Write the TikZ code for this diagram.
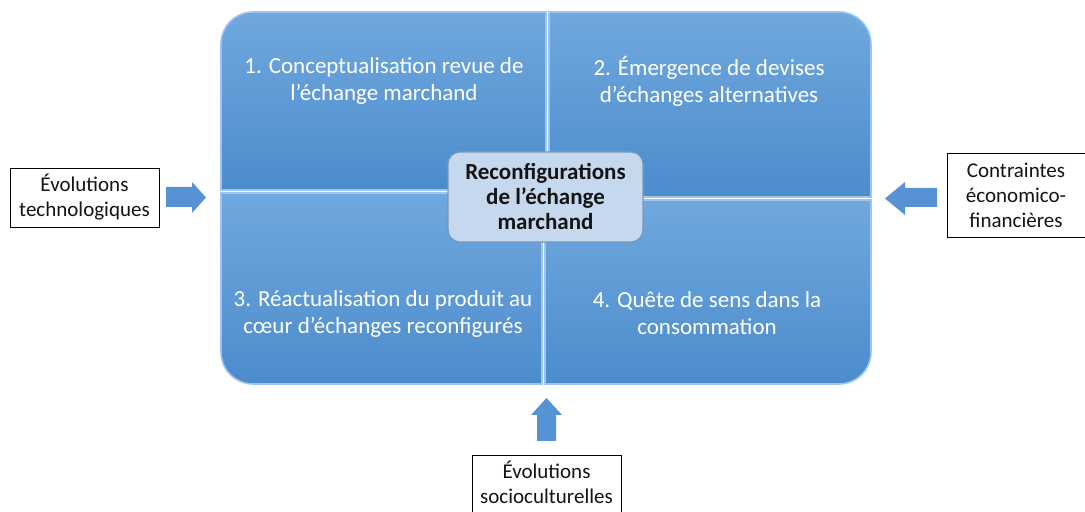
\documentclass[tikz,border=0pt]{standalone}
\usepackage{fontspec}
\setmainfont{Carlito}
\definecolor{qtop}{RGB}{112,168,222}
\definecolor{qbot}{RGB}{76,140,204}
\definecolor{qedge}{RGB}{158,198,236}
\definecolor{cfill}{RGB}{198,216,238}
\definecolor{cbord}{RGB}{120,150,188}
\definecolor{arrowblue}{RGB}{86,146,212}
\definecolor{txtdark}{RGB}{20,20,20}
\tikzset{
  quad/.style={shade, top color=qtop, bottom color=qbot, draw=qedge, line width=1.6bp},
  qtext/.style={text=white, align=center, font=\fontsize{23bp}{27bp}\selectfont},
  center/.style={draw=cbord, fill=cfill, rounded corners=12bp, line width=1.2bp,
    minimum width=195bp, minimum height=90bp, align=center, text=txtdark,
    font=\fontsize{23bp}{25bp}\selectfont\bfseries},
  sidebox/.style={draw=black, line width=0.8bp, fill=white, align=center, text=txtdark,
    font=\fontsize{21bp}{25bp}\selectfont, inner sep=0pt},
  blockarrow/.style={fill=arrowblue}
}
\begin{document}
\begin{tikzpicture}[x=1bp,y=1bp]
\useasboundingbox (0,0) rectangle (1085,512);
% quadrants
\path[quad] (546,322) -- (221,322) -- (221,468) arc[start angle=180,end angle=90,radius=32] -- (546,500) -- cycle;
\path[quad] (549,315) -- (549,500) -- (839,500) arc[start angle=90,end angle=0,radius=32] -- (871,315) -- cycle;
\path[quad] (221,319) -- (542,319) -- (542,128) -- (253,128) arc[start angle=270,end angle=180,radius=32] -- cycle;
\path[quad] (545,312) -- (871,312) -- (871,160) arc[start angle=0,end angle=-90,radius=32] -- (545,128) -- cycle;
% quadrant texts
\node[qtext] (q1) at (384,430.5) {1. Conceptualisation revue de\\l’échange marchand};
\node[qtext] (q2) at (709,430.5) {2. Émergence de devises\\d’échanges alternatives};
\node[qtext] (q3) at (383,198.5) {3. Réactualisation du produit au\\cœur d’échanges reconfigurés};
\node[qtext] (q4) at (707,198.5) {4. Quête de sens dans la\\consommation};
% centre
\node[center] (c) at (545.5,315) {Reconfigurations\\de l’échange\\marchand};
% side boxes
\node[sidebox, minimum width=149bp, minimum height=59bp] (left) at (84.5,314.5) {Évolutions\\technologiques};
\node[sidebox, minimum width=138bp, minimum height=84bp] (right) at (1016,317) {Contraintes\\économico-\\financières};
\draw[line width=0.8bp, fill=white] (472,-2) rectangle (621,57);
\node[align=center, text=txtdark, font=\fontsize{21bp}{25bp}\selectfont, inner sep=0pt] (bottom) at (546.5,30) {Évolutions\\socioculturelles};
% block arrows
\fill[blockarrow] (166,305) -- (192,305) -- (192,299) -- (206,314.5) -- (192,330) -- (192,325) -- (166,325) -- cycle;
\fill[blockarrow] (937,305) -- (905,305) -- (905,297) -- (885,313.5) -- (905,330) -- (905,324) -- (937,324) -- cycle;
\fill[blockarrow] (537,71) -- (537,97) -- (531,97) -- (546.5,114) -- (562,97) -- (556,97) -- (556,71) -- cycle;
\end{tikzpicture}
\end{document}
